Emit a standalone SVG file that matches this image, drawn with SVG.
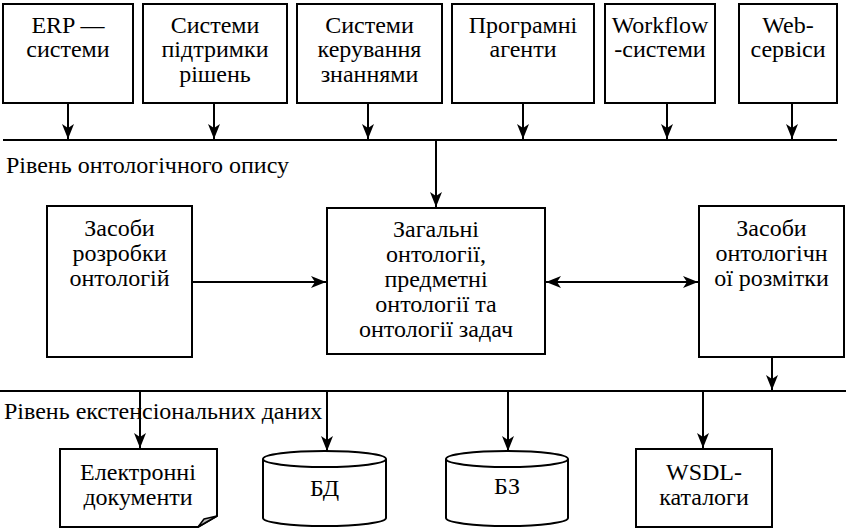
<svg xmlns="http://www.w3.org/2000/svg" width="846" height="529" viewBox="0 0 846 529">
<defs>
<marker id="ah" markerUnits="userSpaceOnUse" markerWidth="16" markerHeight="12" refX="15" refY="6" orient="auto-start-reverse" viewBox="0 0 16 12">
<path d="M0,0 L15,6 L0,12 L4,6 z" fill="#000"/>
</marker>
</defs>
<g id="connectors" stroke="#000" stroke-width="2" fill="none">
<line x1="3" y1="140" x2="837" y2="140"/>
<line x1="0" y1="391" x2="846" y2="391"/>
<line x1="68" y1="103" x2="68" y2="139" marker-end="url(#ah)"/>
<line x1="214" y1="103" x2="214" y2="139" marker-end="url(#ah)"/>
<line x1="368" y1="103" x2="368" y2="139" marker-end="url(#ah)"/>
<line x1="523" y1="103" x2="523" y2="139" marker-end="url(#ah)"/>
<line x1="667" y1="103" x2="667" y2="139" marker-end="url(#ah)"/>
<line x1="792" y1="103" x2="792" y2="139" marker-end="url(#ah)"/>
<line x1="436" y1="140" x2="436" y2="207" marker-end="url(#ah)"/>
<line x1="192" y1="282" x2="326" y2="282" marker-end="url(#ah)"/>
<line x1="546" y1="282" x2="698" y2="282" marker-start="url(#ah)" marker-end="url(#ah)"/>
<line x1="772" y1="357" x2="772" y2="390" marker-end="url(#ah)"/>
<line x1="140" y1="391" x2="140" y2="448" marker-end="url(#ah)"/>
<line x1="327" y1="391" x2="327" y2="451" marker-end="url(#ah)"/>
<line x1="508" y1="391" x2="508" y2="451" marker-end="url(#ah)"/>
<line x1="703" y1="391" x2="703" y2="448" marker-end="url(#ah)"/>
</g>
<g id="erp">
<rect x="3" y="4" width="130" height="99" fill="#fff" stroke="#000" stroke-width="2"/>
<text x="68" y="33" font-family="'Liberation Serif'" font-size="24px" text-anchor="middle">ERP —</text>
<text x="68" y="57" font-family="'Liberation Serif'" font-size="24px" text-anchor="middle">системи</text>
</g>
<g id="dss">
<rect x="143" y="4" width="144" height="99" fill="#fff" stroke="#000" stroke-width="2"/>
<text x="215" y="33" font-family="'Liberation Serif'" font-size="24px" text-anchor="middle">Системи</text>
<text x="215" y="57" font-family="'Liberation Serif'" font-size="24px" text-anchor="middle">підтримки</text>
<text x="215" y="82" font-family="'Liberation Serif'" font-size="24px" text-anchor="middle">рішень</text>
</g>
<g id="kms">
<rect x="297" y="4" width="145" height="99" fill="#fff" stroke="#000" stroke-width="2"/>
<text x="369.5" y="33" font-family="'Liberation Serif'" font-size="24px" text-anchor="middle">Системи</text>
<text x="369.5" y="57" font-family="'Liberation Serif'" font-size="24px" text-anchor="middle">керування</text>
<text x="369.5" y="82" font-family="'Liberation Serif'" font-size="24px" text-anchor="middle">знаннями</text>
</g>
<g id="agents">
<rect x="452" y="4" width="142" height="99" fill="#fff" stroke="#000" stroke-width="2"/>
<text x="523" y="33" font-family="'Liberation Serif'" font-size="24px" text-anchor="middle">Програмні</text>
<text x="523" y="57" font-family="'Liberation Serif'" font-size="24px" text-anchor="middle">агенти</text>
</g>
<g id="workflow">
<rect x="605" y="4" width="110" height="99" fill="#fff" stroke="#000" stroke-width="2"/>
<text x="660" y="33" font-family="'Liberation Serif'" font-size="24px" text-anchor="middle">Workflow</text>
<text x="660" y="57" font-family="'Liberation Serif'" font-size="24px" text-anchor="middle">-системи</text>
</g>
<g id="web">
<rect x="739" y="4" width="98" height="99" fill="#fff" stroke="#000" stroke-width="2"/>
<text x="788" y="33" font-family="'Liberation Serif'" font-size="24px" text-anchor="middle">Web-</text>
<text x="788" y="57" font-family="'Liberation Serif'" font-size="24px" text-anchor="middle">сервіси</text>
</g>
<g id="label-onto">
<text x="6" y="173" font-family="'Liberation Serif'" font-size="24px">Рівень онтологічного опису</text>
</g>
<g id="dev-tools">
<rect x="47" y="206" width="145" height="151" fill="#fff" stroke="#000" stroke-width="2"/>
<text x="119.5" y="236" font-family="'Liberation Serif'" font-size="24px" text-anchor="middle">Засоби</text>
<text x="119.5" y="261" font-family="'Liberation Serif'" font-size="24px" text-anchor="middle">розробки</text>
<text x="119.5" y="286" font-family="'Liberation Serif'" font-size="24px" text-anchor="middle">онтологій</text>
</g>
<g id="ontologies">
<rect x="327" y="208" width="218" height="146" fill="#fff" stroke="#000" stroke-width="2"/>
<text x="436" y="237" font-family="'Liberation Serif'" font-size="24px" text-anchor="middle">Загальні</text>
<text x="436" y="262" font-family="'Liberation Serif'" font-size="24px" text-anchor="middle">онтології,</text>
<text x="436" y="287" font-family="'Liberation Serif'" font-size="24px" text-anchor="middle">предметні</text>
<text x="436" y="312" font-family="'Liberation Serif'" font-size="24px" text-anchor="middle">онтології та</text>
<text x="436" y="337" font-family="'Liberation Serif'" font-size="24px" text-anchor="middle">онтології задач</text>
</g>
<g id="markup">
<rect x="699" y="206" width="145" height="151" fill="#fff" stroke="#000" stroke-width="2"/>
<text x="771.5" y="236" font-family="'Liberation Serif'" font-size="24px" text-anchor="middle">Засоби</text>
<text x="771.5" y="261" font-family="'Liberation Serif'" font-size="24px" text-anchor="middle">онтологічн</text>
<text x="771.5" y="286" font-family="'Liberation Serif'" font-size="24px" text-anchor="middle">ої розмітки</text>
</g>
<g id="label-ext">
<text x="4" y="419" font-family="'Liberation Serif'" font-size="24px">Рівень екстенсіональних даних</text>
</g>
<g id="edocs">
<path d="M60,449 H217 V516 L198,527 H60 Z" fill="#fff" stroke="#000" stroke-width="2"/>
<path d="M198,527 L217,516 L204,519 Z" fill="#bbb" stroke="#000" stroke-width="1.5" stroke-linejoin="round"/>
<text x="138" y="480" font-family="'Liberation Serif'" font-size="24px" text-anchor="middle">Електронні</text>
<text x="138" y="505" font-family="'Liberation Serif'" font-size="24px" text-anchor="middle">документи</text>
</g>
<g id="db">
<path d="M263,459 V518 A61.5,8 0 0 0 386,518 V459" fill="#fff" stroke="#000" stroke-width="2"/>
<ellipse cx="324.5" cy="459" rx="61.5" ry="8" fill="#fff" stroke="#000" stroke-width="2"/>
<text x="324.5" y="496" font-family="'Liberation Serif'" font-size="24px" text-anchor="middle">БД</text>
</g>
<g id="kb">
<path d="M446,459 V518 A61,8 0 0 0 568,518 V459" fill="#fff" stroke="#000" stroke-width="2"/>
<ellipse cx="507" cy="459" rx="61" ry="8" fill="#fff" stroke="#000" stroke-width="2"/>
<text x="507" y="494" font-family="'Liberation Serif'" font-size="24px" text-anchor="middle">БЗ</text>
</g>
<g id="wsdl">
<rect x="636" y="449" width="136" height="78" fill="#fff" stroke="#000" stroke-width="2"/>
<text x="704" y="480" font-family="'Liberation Serif'" font-size="24px" text-anchor="middle">WSDL-</text>
<text x="704" y="505" font-family="'Liberation Serif'" font-size="24px" text-anchor="middle">каталоги</text>
</g>
</svg>
